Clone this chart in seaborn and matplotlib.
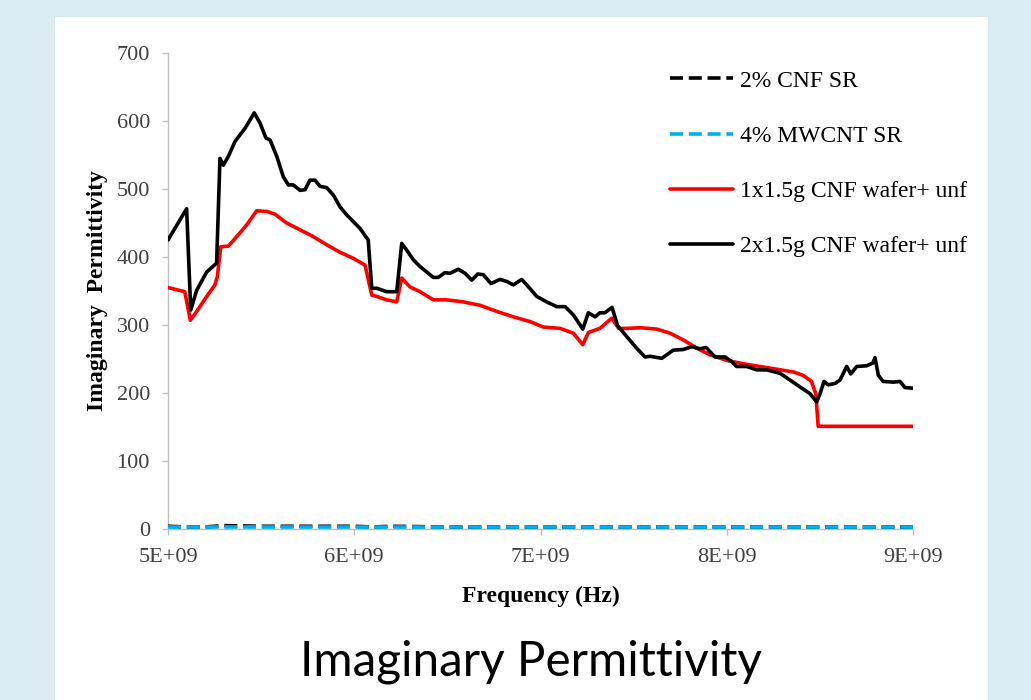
import matplotlib
matplotlib.use("Agg")
import matplotlib.pyplot as plt
import seaborn as sns
import pandas as pd
from matplotlib.patches import Rectangle
from matplotlib.ticker import FuncFormatter, MultipleLocator

# ---------------- data (frequency in GHz, imaginary permittivity) ----------------
freq_2x = [5.000, 5.100, 5.122, 5.154, 5.208, 5.261, 5.279, 5.297, 5.324, 5.360,
           5.413, 5.431, 5.463, 5.494, 5.526, 5.548, 5.584, 5.619, 5.646, 5.673,
           5.709, 5.736, 5.762, 5.789, 5.816, 5.852, 5.888, 5.923, 5.959, 5.995,
           6.031, 6.075, 6.094, 6.121, 6.174, 6.228, 6.255, 6.282, 6.317, 6.353,
           6.389, 6.424, 6.451, 6.487, 6.514, 6.559, 6.595, 6.631, 6.663, 6.693,
           6.734, 6.783, 6.819, 6.854, 6.899, 6.926, 6.980, 7.033, 7.087, 7.132,
           7.176, 7.227, 7.257, 7.293, 7.319, 7.346, 7.384, 7.414, 7.463, 7.516,
           7.561, 7.588, 7.651, 7.713, 7.767, 7.812, 7.856, 7.889, 7.937, 7.991,
           8.027, 8.053, 8.107, 8.161, 8.215, 8.286, 8.340, 8.393, 8.447, 8.483,
           8.501, 8.522, 8.545, 8.581, 8.608, 8.644, 8.666, 8.698, 8.751, 8.784,
           8.796, 8.814, 8.840, 8.894, 8.930, 8.957, 9.000]
eps_2x = [425, 471, 322, 351, 378, 391, 545, 535, 548, 570,
          589, 597, 612, 597, 575, 572, 548, 518, 506, 506,
          498, 499, 513, 513, 504, 502, 491, 474, 462, 452,
          442, 425, 354, 354, 349, 349, 420, 410, 396, 386,
          378, 370, 370, 377, 376, 382, 376, 366, 375, 374,
          361, 367, 364, 359, 367, 359, 342, 334, 327, 327,
          315, 294, 318, 312, 318, 318, 326, 299, 283, 266,
          253, 254, 251, 263, 264, 268, 265, 267, 253, 253,
          246, 239, 239, 234, 234, 229, 219, 209, 199, 187,
          199, 217, 212, 214, 219, 239, 228, 239, 240, 244,
          252, 226, 217, 216, 217, 208, 207]

freq_1x = [5.000, 5.090, 5.120, 5.154, 5.208, 5.252, 5.265, 5.283, 5.324, 5.369,
           5.422, 5.476, 5.530, 5.574, 5.637, 5.709, 5.780, 5.852, 5.923, 5.995,
           6.058, 6.094, 6.121, 6.174, 6.228, 6.255, 6.299, 6.353, 6.424, 6.496,
           6.585, 6.675, 6.765, 6.854, 6.944, 7.015, 7.105, 7.176, 7.227, 7.257,
           7.319, 7.382, 7.420, 7.463, 7.534, 7.624, 7.695, 7.767, 7.839, 7.910,
           8.000, 8.089, 8.178, 8.268, 8.357, 8.410, 8.455, 8.478, 8.491, 9.000]
eps_1x = [355, 349, 307, 320, 342, 359, 371, 415, 416, 430,
          447, 468, 467, 463, 450, 440, 430, 418, 407, 398,
          388, 344, 342, 337, 334, 369, 356, 349, 337, 337,
          334, 329, 320, 312, 305, 297, 295, 288, 271, 289,
          295, 310, 295, 295, 296, 294, 288, 278, 266, 256,
          248, 243, 239, 235, 231, 226, 217, 199, 151, 151]

freq_sr = [5.0, 5.1, 5.2, 5.3, 5.5, 6.0, 6.1, 6.2, 6.5, 7.0, 8.0, 9.0]
eps_cnf_sr = [4, 3, 3, 5, 4, 4, 3, 4, 3, 3, 3, 3]
eps_mwcnt_sr = [3, 3, 3, 3, 3, 3, 3, 3, 3, 3, 3, 3]

labels = ["2% CNF SR", "4% MWCNT SR", "1x1.5g CNF wafer+ unf", "2x1.5g CNF wafer+ unf"]

# ---------------- figure ----------------
sns.set_theme(style="white")
plt.rcParams["font.family"] = ["Liberation Serif", "DejaVu Serif"]

W, H = 1031, 700
fig = plt.figure(figsize=(W / 100, H / 100), dpi=100, facecolor="#daebf2")
fig.patches.append(Rectangle((55 / W, 0), (988 - 55) / W, 1 - 17 / H,
                             transform=fig.transFigure, facecolor="white",
                             edgecolor="none", zorder=-10))

ax = fig.add_axes([168 / W, 1 - 529 / H, (913 - 168) / W, (529 - 53) / H])
ax.set_facecolor("none")

def hz(lst):
    return [v * 1e9 for v in lst]

df_cnf = pd.DataFrame({"f": hz(freq_sr), "e": eps_cnf_sr})
df_mw = pd.DataFrame({"f": hz(freq_sr), "e": eps_mwcnt_sr})
df_1x = pd.DataFrame({"f": hz(freq_1x), "e": eps_1x})
df_2x = pd.DataFrame({"f": hz(freq_2x), "e": eps_2x})

lw = 2.6
dash = (0, (3.6, 1.6))
sns.lineplot(data=df_cnf, x="f", y="e", ax=ax, color="black", lw=lw,
             linestyle=dash, label=labels[0], clip_on=False, sort=False, zorder=3)
sns.lineplot(data=df_mw, x="f", y="e", ax=ax, color="#00b0f0", lw=lw,
             linestyle=dash, label=labels[1], clip_on=False, sort=False, zorder=3.1)
sns.lineplot(data=df_1x, x="f", y="e", ax=ax, color="#ff0000", lw=lw,
             label=labels[2], sort=False, zorder=3.2)
sns.lineplot(data=df_2x, x="f", y="e", ax=ax, color="black", lw=lw,
             label=labels[3], sort=False, zorder=3.3)

ax.set_xlim(5e9, 9e9)
ax.set_ylim(0, 700)
ax.xaxis.set_major_locator(MultipleLocator(1e9))
ax.yaxis.set_major_locator(MultipleLocator(100))
ax.xaxis.set_major_formatter(FuncFormatter(lambda v, p: f"{int(round(v / 1e9))}E+09"))

for s in ["top", "right"]:
    ax.spines[s].set_visible(False)
for s in ["left", "bottom"]:
    ax.spines[s].set_color("#bfbfbf")
    ax.spines[s].set_linewidth(1.0)

ax.tick_params(axis="both", direction="out", length=4, width=1.0, color="#bfbfbf",
               labelcolor="#404040", labelsize=16, left=True, bottom=True)
ax.tick_params(axis="y", pad=9)
ax.tick_params(axis="x", pad=10)

ax.set_xlabel("Frequency (Hz)", fontsize=17, fontweight="bold", color="black", labelpad=13)
ax.set_ylabel("Imaginary  Permittivity", fontsize=17, fontweight="bold", color="black", labelpad=6)

leg = ax.legend(loc="upper left", bbox_to_anchor=(670 / W, 1 - 70 / H),
                bbox_transform=fig.transFigure, frameon=False, fontsize=17,
                handlelength=2.65, handletextpad=0.3, labelspacing=1.43,
                borderpad=0, borderaxespad=0)
for t in leg.get_texts():
    t.set_color("black")
for h in leg.get_lines():
    h.set_linewidth(lw)

fig.text(531 / W, 1 - 675 / H, "Imaginary Permittivity", ha="center", va="baseline",
         fontsize=34.3, family=["Lato", "DejaVu Sans"], color="black")

fig.savefig("out.png", dpi=100, facecolor=fig.get_facecolor())
